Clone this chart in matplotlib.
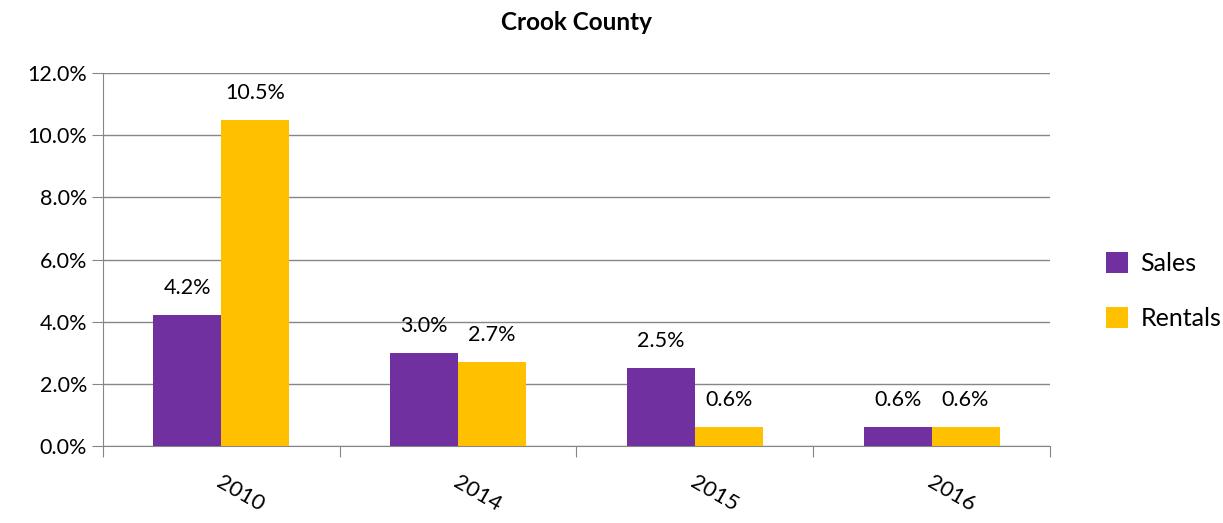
import matplotlib.pyplot as plt
import matplotlib.transforms as mtransforms
import numpy as np

plt.rcParams['font.family'] = ['Lato', 'DejaVu Sans']

years = ['2010', '2014', '2015', '2016']
sales = [4.2, 3.0, 2.5, 0.6]
rentals = [10.5, 2.7, 0.6, 0.6]

fig = plt.figure(figsize=(12.23, 5.23), dpi=100)
ax = fig.add_axes([0.0842, 0.1472, 0.7743, 0.7132])

x = np.arange(len(years))
w = 0.287
b1 = ax.bar(x - w / 2, sales, w, color='#7030A0', label='Sales', zorder=3)
b2 = ax.bar(x + w / 2, rentals, w, color='#FFC000', label='Rentals', zorder=3)

for bars in (b1, b2):
    for r in bars:
        h = r.get_height()
        ax.text(r.get_x() + r.get_width() / 2, h + 0.55, '%.1f%%' % h,
                ha='center', va='bottom', fontsize=15.5)

ax.set_ylim(0, 12)
ax.set_yticks(np.arange(0, 12.1, 2))
ax.set_yticklabels(['%.1f%%' % v for v in np.arange(0, 12.1, 2)], fontsize=15.5)
ax.set_xlim(-0.5, 3.5)
ax.set_xticks(np.arange(-0.5, 3.6, 1))
ax.set_xticklabels([])
ax.set_xticks(x, minor=True)
ax.set_xticklabels(years, minor=True, rotation=-30, fontsize=16,
                   ha='left', va='top', rotation_mode='anchor')
ax.tick_params(axis='x', which='minor', length=0, pad=19)
ax.tick_params(axis='x', which='major', length=8, color='#868686')
ax.tick_params(axis='y', length=8, color='#868686')
shift = mtransforms.ScaledTranslation(2 / 100, 0, fig.dpi_scale_trans)
for lab in ax.get_xticklabels(minor=True):
    lab.set_transform(lab.get_transform() + shift)

ax.grid(axis='y', color='#868686', linewidth=1, zorder=0)
for s in ['top', 'right']:
    ax.spines[s].set_visible(False)
ax.spines['left'].set_color('#868686')
ax.spines['bottom'].set_color('#868686')

ax.set_title('Crook County', fontsize=17.5, fontweight='bold', pad=31)
ax.legend(loc='center left', bbox_to_anchor=(1.035, 0.415), frameon=False,
          fontsize=18, handlelength=0.9, handleheight=0.9, labelspacing=1.3,
          handletextpad=0.5)

fig.savefig('out.png', dpi=100)
